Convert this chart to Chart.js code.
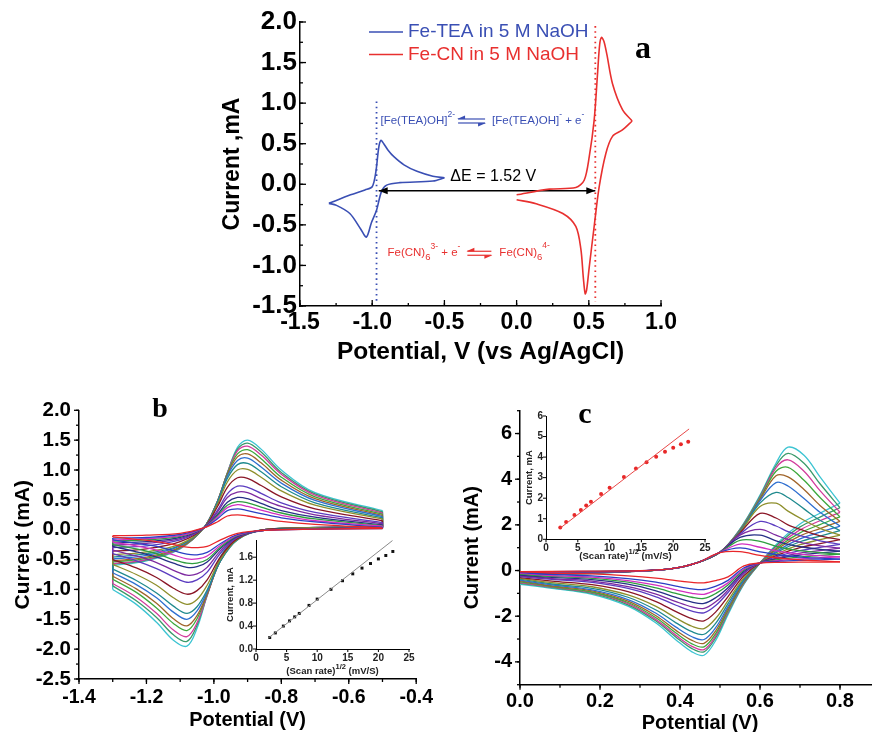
<!DOCTYPE html>
<html><head><meta charset="utf-8">
<script src="https://cdn.jsdelivr.net/npm/chart.js@4.4.0/dist/chart.umd.min.js"></script>
<style>
html,body{margin:0;padding:0;background:#fff;overflow:hidden;width:872px;height:732px;position:relative;}
canvas{position:absolute;}
</style></head><body>
<canvas id="ca" width="470" height="370" style="left:210px;top:0px"></canvas>
<canvas id="cb" width="440" height="342" style="left:0px;top:390px"></canvas>
<canvas id="cbi" width="200" height="150" style="left:220px;top:530px"></canvas>
<canvas id="cc" width="450" height="350" style="left:440px;top:390px"></canvas>
<canvas id="cci" width="200" height="165" style="left:515px;top:405px"></canvas>
<script>
// ---------------- Panel a data ----------------
const teaUpX = [-1.3,-1.15,-1.05,-1.0,-0.975,-0.955,-0.94,-0.92,-0.89,-0.85,-0.78,-0.69,-0.58,-0.5];
const teaUpY = [-0.235,-0.13,-0.07,-0.03,0.15,0.45,0.54,0.5,0.42,0.34,0.24,0.16,0.10,0.08];
const teaDnX = [-0.5,-0.579,-0.81,-0.9,-0.936,-0.97,-1.005,-1.04,-1.08,-1.155,-1.247,-1.3];
const teaDnY = [0.08,0.04,0.02,-0.01,-0.09,-0.32,-0.47,-0.65,-0.55,-0.36,-0.26,-0.235];
const cnUpX = [0.0,0.227,0.41,0.468,0.503,0.537,0.56,0.575,0.588,0.605,0.625,0.664,0.733,0.8];
const cnUpY = [-0.13,-0.06,-0.04,0.05,0.34,0.79,1.35,1.72,1.81,1.76,1.6,1.24,0.92,0.78];
const cnDnX = [0.8,0.733,0.664,0.618,0.572,0.537,0.503,0.485,0.475,0.462,0.445,0.41,0.32,0.135,0.0];
const cnDnY = [0.78,0.67,0.59,0.38,-0.03,-0.52,-1.02,-1.3,-1.35,-1.15,-0.8,-0.52,-0.36,-0.24,-0.19];
const dotBlueX = [-0.97,-0.97];  const dotBlueY = [1.02,-1.45];
const dotRedX = [0.545,0.545];   const dotRedY = [1.95,-1.45];
const arrowX = [-0.955,0.545];   const arrowY = [-0.08,-0.08];
const aTicksX = [-1.5,-1.0,-0.5,0.0,0.5,1.0];
const aTicksY = [-1.5,-1.0,-0.5,0.0,0.5,1.0,1.5,2.0];

// ---------------- Panel b data ----------------
const bAnodicX = [-1.3,-1.2,-1.1,-1.03,-0.99,-0.96,-0.93,-0.9,-0.86,-0.8,-0.7,-0.5];
const bCathodicX = [-0.5,-0.7,-0.85,-0.93,-0.98,-1.02,-1.05,-1.08,-1.12,-1.17,-1.23,-1.3];
const bAnodic = [
 [-0.10,-0.09,-0.06,0.03,0.13,0.23,0.25,0.23,0.19,0.14,0.09,0.03],
 [-0.14,-0.13,-0.08,0.03,0.18,0.32,0.35,0.32,0.27,0.20,0.13,0.04],
 [-0.17,-0.15,-0.10,0.03,0.21,0.37,0.42,0.39,0.33,0.24,0.15,0.06],
 [-0.19,-0.17,-0.11,0.03,0.23,0.41,0.47,0.45,0.38,0.28,0.18,0.07],
 [-0.22,-0.20,-0.13,0.03,0.25,0.46,0.54,0.52,0.44,0.32,0.21,0.08],
 [-0.26,-0.23,-0.15,0.03,0.29,0.54,0.63,0.62,0.52,0.39,0.25,0.10],
 [-0.30,-0.27,-0.17,0.03,0.32,0.60,0.73,0.71,0.61,0.45,0.29,0.12],
 [-0.36,-0.32,-0.20,0.03,0.38,0.71,0.87,0.86,0.74,0.55,0.35,0.15],
 [-0.42,-0.37,-0.24,0.03,0.42,0.80,1.00,1.01,0.88,0.65,0.41,0.18],
 [-0.46,-0.40,-0.26,0.03,0.45,0.86,1.09,1.11,0.97,0.72,0.45,0.20],
 [-0.49,-0.43,-0.27,0.03,0.46,0.90,1.16,1.20,1.05,0.78,0.49,0.22],
 [-0.52,-0.46,-0.29,0.03,0.47,0.92,1.22,1.27,1.12,0.83,0.52,0.24],
 [-0.54,-0.48,-0.30,0.03,0.47,0.94,1.27,1.34,1.19,0.88,0.55,0.26],
 [-0.57,-0.50,-0.31,0.03,0.47,0.95,1.32,1.40,1.25,0.93,0.58,0.28],
 [-0.58,-0.51,-0.31,0.03,0.46,0.95,1.35,1.45,1.30,0.96,0.60,0.30],
 [-0.60,-0.52,-0.32,0.03,0.45,0.95,1.38,1.50,1.35,1.00,0.62,0.32]
];
const bCathodic = [
 [0.02,0.01,-0.01,-0.06,-0.17,-0.28,-0.30,-0.29,-0.25,-0.20,-0.16,-0.12],
 [0.02,0.01,-0.01,-0.08,-0.23,-0.38,-0.42,-0.41,-0.35,-0.28,-0.23,-0.17],
 [0.03,0.01,-0.01,-0.09,-0.26,-0.44,-0.49,-0.49,-0.42,-0.34,-0.27,-0.21],
 [0.03,0.02,-0.01,-0.10,-0.29,-0.50,-0.56,-0.56,-0.50,-0.40,-0.32,-0.25],
 [0.03,0.02,-0.01,-0.11,-0.31,-0.54,-0.62,-0.63,-0.56,-0.46,-0.37,-0.28],
 [0.03,0.02,-0.01,-0.12,-0.35,-0.63,-0.74,-0.76,-0.68,-0.55,-0.44,-0.34],
 [0.04,0.02,-0.01,-0.13,-0.39,-0.71,-0.84,-0.88,-0.79,-0.65,-0.52,-0.40],
 [0.04,0.02,0.00,-0.15,-0.45,-0.84,-1.02,-1.08,-0.98,-0.80,-0.64,-0.50],
 [0.04,0.03,0.00,-0.16,-0.49,-0.93,-1.17,-1.25,-1.14,-0.93,-0.75,-0.58],
 [0.04,0.03,0.00,-0.17,-0.52,-1.01,-1.29,-1.40,-1.28,-1.06,-0.85,-0.66],
 [0.05,0.03,0.00,-0.16,-0.52,-1.04,-1.36,-1.50,-1.38,-1.14,-0.92,-0.72],
 [0.05,0.03,0.00,-0.16,-0.52,-1.07,-1.44,-1.61,-1.49,-1.23,-0.99,-0.78],
 [0.05,0.03,0.00,-0.15,-0.51,-1.08,-1.49,-1.69,-1.57,-1.31,-1.05,-0.83],
 [0.05,0.04,0.00,-0.14,-0.50,-1.10,-1.56,-1.79,-1.68,-1.40,-1.13,-0.90],
 [0.06,0.04,0.00,-0.13,-0.47,-1.10,-1.60,-1.87,-1.76,-1.47,-1.19,-0.94],
 [0.06,0.04,0.00,-0.12,-0.45,-1.10,-1.65,-1.95,-1.85,-1.55,-1.25,-1.00]
];
const bTicksX = [-1.4,-1.2,-1.0,-0.8,-0.6,-0.4];
const bTicksY = [-2.5,-2.0,-1.5,-1.0,-0.5,0.0,0.5,1.0,1.5,2.0];
const bInsetX = [2.24,3.16,4.47,5.48,6.32,7.07,8.66,10,12.25,14.14,15.81,17.32,18.71,20,21.21,22.36];
const bInsetY = [0.2,0.28,0.4,0.49,0.56,0.62,0.76,0.87,1.04,1.19,1.31,1.41,1.49,1.57,1.63,1.70];
const bFitX = [2.0,22.3];  const bFitY = [0.19,1.89];
const bInsetTicksX = [0,5,10,15,20,25];
const bInsetTicksY = [0.0,0.4,0.8,1.2,1.6];

// ---------------- Panel c data ----------------
const cAnodicX = [0.0,0.15,0.3,0.38,0.44,0.5,0.55,0.6,0.64,0.67,0.71,0.75,0.8];
const cCathodicX = [0.8,0.75,0.7,0.65,0.6,0.56,0.52,0.49,0.46,0.43,0.39,0.34,0.27,0.18,0.08,0.0];
const cAnodic = [
 [-0.05,-0.03,-0.01,0.08,0.32,0.78,0.83,0.66,0.56,0.51,0.46,0.42,0.38],
 [-0.06,-0.04,-0.01,0.08,0.32,0.80,0.99,0.82,0.70,0.64,0.58,0.54,0.50],
 [-0.08,-0.05,-0.02,0.08,0.32,0.80,1.16,1.02,0.86,0.78,0.70,0.65,0.60],
 [-0.09,-0.05,-0.02,0.08,0.32,0.80,1.32,1.28,1.06,0.95,0.85,0.78,0.72],
 [-0.10,-0.06,-0.02,0.08,0.32,0.80,1.45,1.55,1.30,1.15,1.02,0.93,0.85],
 [-0.12,-0.07,-0.02,0.08,0.32,0.80,1.55,1.80,1.55,1.36,1.20,1.08,0.98],
 [-0.13,-0.08,-0.02,0.08,0.32,0.80,1.60,2.15,1.95,1.70,1.48,1.30,1.15],
 [-0.14,-0.08,-0.02,0.08,0.32,0.80,1.65,2.50,2.30,2.00,1.75,1.52,1.35],
 [-0.15,-0.09,-0.03,0.08,0.32,0.80,1.68,2.80,2.95,2.60,2.20,1.85,1.55],
 [-0.17,-0.10,-0.03,0.08,0.32,0.80,1.70,2.95,3.42,3.20,2.70,2.20,1.75],
 [-0.18,-0.11,-0.03,0.08,0.32,0.80,1.72,3.05,3.85,3.70,3.15,2.55,1.95],
 [-0.19,-0.11,-0.03,0.08,0.32,0.80,1.74,3.10,4.15,4.10,3.55,2.85,2.15],
 [-0.21,-0.12,-0.03,0.08,0.32,0.80,1.76,3.15,4.35,4.52,3.95,3.20,2.35],
 [-0.22,-0.13,-0.03,0.08,0.32,0.80,1.78,3.20,4.50,4.85,4.35,3.50,2.55],
 [-0.23,-0.14,-0.03,0.08,0.32,0.80,1.80,3.25,4.60,5.13,4.70,3.80,2.75],
 [-0.25,-0.15,-0.03,0.08,0.32,0.80,1.82,3.30,4.70,5.40,5.05,4.10,2.95]
];
const cCathodic = [
 [0.38,0.37,0.37,0.36,0.33,0.20,-0.28,-0.44,-0.54,-0.52,-0.44,-0.33,-0.23,-0.15,-0.11,-0.05],
 [0.50,0.47,0.45,0.41,0.33,0.12,-0.43,-0.68,-0.83,-0.80,-0.68,-0.51,-0.35,-0.23,-0.17,-0.09],
 [0.60,0.56,0.51,0.44,0.33,0.07,-0.54,-0.85,-1.04,-1.00,-0.85,-0.64,-0.44,-0.29,-0.22,-0.12],
 [0.72,0.66,0.59,0.49,0.33,0.03,-0.63,-1.00,-1.22,-1.17,-1.00,-0.76,-0.51,-0.34,-0.26,-0.16],
 [0.85,0.77,0.68,0.54,0.33,-0.03,-0.75,-1.18,-1.44,-1.38,-1.18,-0.89,-0.60,-0.40,-0.30,-0.20],
 [0.98,0.87,0.76,0.58,0.33,-0.09,-0.86,-1.36,-1.66,-1.59,-1.36,-1.03,-0.70,-0.46,-0.35,-0.23],
 [1.15,1.01,0.87,0.65,0.33,-0.13,-0.96,-1.52,-1.85,-1.78,-1.52,-1.15,-0.78,-0.52,-0.39,-0.27],
 [1.35,1.18,1.00,0.72,0.33,-0.22,-1.14,-1.80,-2.20,-2.11,-1.80,-1.36,-0.92,-0.62,-0.46,-0.31],
 [1.55,1.35,1.13,0.79,0.33,-0.31,-1.32,-2.08,-2.54,-2.44,-2.08,-1.57,-1.07,-0.71,-0.53,-0.34],
 [1.75,1.51,1.26,0.87,0.33,-0.37,-1.45,-2.29,-2.79,-2.68,-2.29,-1.73,-1.17,-0.78,-0.59,-0.38],
 [1.95,1.68,1.39,0.94,0.33,-0.43,-1.57,-2.48,-3.02,-2.90,-2.48,-1.87,-1.27,-0.85,-0.63,-0.42],
 [2.15,1.84,1.52,1.02,0.33,-0.47,-1.66,-2.62,-3.19,-3.06,-2.62,-1.98,-1.34,-0.89,-0.67,-0.45],
 [2.35,2.01,1.65,1.09,0.33,-0.51,-1.74,-2.74,-3.34,-3.21,-2.74,-2.07,-1.40,-0.94,-0.70,-0.49],
 [2.55,2.18,1.78,1.16,0.33,-0.54,-1.80,-2.84,-3.46,-3.32,-2.84,-2.15,-1.45,-0.97,-0.73,-0.53],
 [2.75,2.34,1.91,1.24,0.33,-0.56,-1.85,-2.92,-3.56,-3.42,-2.92,-2.21,-1.50,-1.00,-0.75,-0.56],
 [2.95,2.51,2.04,1.31,0.33,-0.60,-1.93,-3.04,-3.71,-3.56,-3.04,-2.30,-1.56,-1.04,-0.78,-0.60]
];
const cTicksX = [0.0,0.2,0.4,0.6,0.8];
const cTicksY = [-4,-2,0,2,4,6];
const cInsetX = [2.24,3.16,4.47,5.48,6.32,7.07,8.66,10,12.25,14.14,15.81,17.32,18.71,20,21.21,22.36];
const cInsetY = [0.58,0.84,1.18,1.43,1.64,1.83,2.2,2.51,3.03,3.44,3.75,4.02,4.26,4.46,4.62,4.75];
const cFitX = [2.3,22.5];  const cFitY = [0.56,5.37];
const cInsetTicksX = [0,5,10,15,20,25];
const cInsetTicksY = [0,1,2,3,4,5,6];

const curveColors = ['#e8262a','#2b3fc4','#d22fc0','#2e9e3e','#262f86','#7d2aa0','#5b3cc0','#8a1626',
                     '#8e8f2c','#1f8a8e','#2f6fd0','#a0642a','#3ea83c','#d23c9c','#3a9a6a','#3cc4d2'];
const BLUE = '#3a4fb4', RED = '#e8302f';

// ---------------- helpers ----------------
const SANS = "'Liberation Sans', Arial, Helvetica, sans-serif";
const SERIF = "'Liberation Serif', 'Times New Roman', serif";
Chart.defaults.font.family = SANS;

function pts(xs, ys){ return xs.map((x,i)=>({x:x, y:ys[i]})); }
function line(xs, ys, color, w, t){
  return {data: pts(xs,ys), borderColor:color, backgroundColor:color, borderWidth:w, tension:t,
          showLine:true, pointRadius:0, pointHoverRadius:0, fill:false};
}
function makeAxis(o){
  return {
    type:'linear', position:o.pos, min:o.min, max:o.max,
    afterBuildTicks: s => { s.ticks = o.ticks.map(v=>({value:v})); },
    afterFit: s => { if (o.pos==='left') s.width = o.fit; else s.height = o.fit; },
    grid:{display:false, drawTicks:false, drawOnChartArea:false},
    border:{display:true, color:'#000', width:o.bw || 1.5},
    ticks:{color:o.tc || '#000', padding:o.pad, autoSkip:false, maxRotation:0,
           font:{family:SANS, size:o.size, weight:'bold', lineHeight:1.2},
           callback: v => o.fmt(v)},
    title: o.title ? {display:true, text:o.title, color:o.tc || '#000',
           font:{family:SANS, size:o.titleSize, weight:'bold', lineHeight:1.2}, padding:o.titlePad}
         : {display:false}
  };
}
function range(min,max,step){ const a=[]; for(let v=min; v<=max+1e-9; v+=step) a.push(+v.toFixed(6)); return a; }

const tickMarks = {
  id:'tickMarks',
  afterDraw(chart, args, o){
    const ctx = chart.ctx, ca = chart.chartArea, sx = chart.scales.x, sy = chart.scales.y;
    ctx.save(); ctx.strokeStyle = '#000'; ctx.lineWidth = o.lw || 1.2;
    const d = o.inward ? 1 : -1;
    const doX = (vals,len) => vals.forEach(v => { if (v < sx.min-1e-9 || v > sx.max+1e-9) return;
      const p = sx.getPixelForValue(v); ctx.beginPath(); ctx.moveTo(p, ca.bottom); ctx.lineTo(p, ca.bottom - d*len); ctx.stroke(); });
    const doY = (vals,len) => vals.forEach(v => { if (v < sy.min-1e-9 || v > sy.max+1e-9) return;
      const p = sy.getPixelForValue(v); ctx.beginPath(); ctx.moveTo(ca.left, p); ctx.lineTo(ca.left + d*len, p); ctx.stroke(); });
    if (o.xMinor) doX(range(sx.min, sx.max, o.xMinor), o.minor);
    if (o.yMinor) doY(range(sy.min, sy.max, o.yMinor), o.minor);
    doX(sx.ticks.map(t=>t.value), o.major);
    doY(sy.ticks.map(t=>t.value), o.major);
    ctx.restore();
  }
};

function richWidth(ctx, parts){
  let w = 0;
  for (const p of parts){
    if (p.gap){ w += p.gap; continue; }
    if (p.eq){ w += p.eq; continue; }
    ctx.font = (p.w || 'normal') + ' ' + p.s + 'px ' + SANS;
    w += ctx.measureText(p.t).width;
  }
  return w;
}
function drawEq(ctx, x, y, w){
  ctx.lineWidth = 1.2;
  ctx.beginPath(); ctx.moveTo(x, y-2); ctx.lineTo(x+w, y-2); ctx.stroke();
  ctx.beginPath(); ctx.moveTo(x-1, y-2); ctx.lineTo(x+7, y-5.5); ctx.lineTo(x+7, y-2); ctx.closePath(); ctx.fill();
  ctx.beginPath(); ctx.moveTo(x, y+2); ctx.lineTo(x+w, y+2); ctx.stroke();
  ctx.beginPath(); ctx.moveTo(x+w+1, y+2); ctx.lineTo(x+w-7, y+5.5); ctx.lineTo(x+w-7, y+2); ctx.closePath(); ctx.fill();
}
function drawRich(ctx, x, y, parts, color){
  ctx.save(); ctx.fillStyle = color; ctx.strokeStyle = color; ctx.textBaseline = 'middle'; ctx.textAlign = 'left';
  for (const p of parts){
    if (p.gap){ x += p.gap; continue; }
    if (p.eq){ drawEq(ctx, x, y, p.eq); x += p.eq; continue; }
    ctx.font = (p.w || 'normal') + ' ' + p.s + 'px ' + SANS;
    ctx.fillText(p.t, x, y + (p.dy || 0));
    x += ctx.measureText(p.t).width;
  }
  ctx.restore();
}
function letter(ctx, t, x, y, size){
  ctx.save(); ctx.fillStyle = '#000'; ctx.font = 'bold ' + size + 'px ' + SERIF;
  ctx.textAlign = 'center'; ctx.textBaseline = 'middle'; ctx.fillText(t, x, y); ctx.restore();
}

const common = {animation:false, responsive:false, events:[], maintainAspectRatio:false};

// ---------------- Panel a ----------------
const panelA = {
  id:'panelA',
  afterDatasetsDraw(chart){
    const ctx = chart.ctx, sx = chart.scales.x, sy = chart.scales.y;
    const yA = sy.getPixelForValue(arrowY[0]);
    const xl = sx.getPixelForValue(arrowX[0]), xr = sx.getPixelForValue(arrowX[1]);
    ctx.save(); ctx.fillStyle = '#000';
    ctx.beginPath(); ctx.moveTo(xl, yA); ctx.lineTo(xl+9, yA-3.5); ctx.lineTo(xl+9, yA+3.5); ctx.closePath(); ctx.fill();
    ctx.beginPath(); ctx.moveTo(xr, yA); ctx.lineTo(xr-9, yA-3.5); ctx.lineTo(xr-9, yA+3.5); ctx.closePath(); ctx.fill();
    ctx.font = '16px ' + SANS; ctx.textBaseline = 'middle'; ctx.textAlign = 'left';
    ctx.fillText('ΔE = 1.52 V', sx.getPixelForValue(-0.459), sy.getPixelForValue(0.10));
    ctx.restore();
    drawRich(ctx, sx.getPixelForValue(-0.943), sy.getPixelForValue(0.78), [
      {t:'[Fe(TEA)OH]', s:11.5}, {t:'2-', s:8.5, dy:-6}, {gap:3}, {eq:27}, {gap:7},
      {t:'[Fe(TEA)OH]', s:11.5}, {t:'-', s:8.5, dy:-6}, {t:' + e', s:11.5}, {t:'-', s:8.5, dy:-6}
    ], BLUE);
    drawRich(ctx, sx.getPixelForValue(-0.894), sy.getPixelForValue(-0.85), [
      {t:'Fe(CN)', s:11.5}, {t:'6', s:9.5, dy:4}, {t:'3-', s:8.5, dy:-7}, {t:' + e', s:11.5}, {t:'-', s:8.5, dy:-7},
      {gap:7}, {eq:24}, {gap:8}, {t:'Fe(CN)', s:11.5}, {t:'6', s:9.5, dy:4}, {t:'4-', s:8.5, dy:-8}
    ], RED);
  },
  afterDraw(chart){
    const ctx = chart.ctx;
    ctx.save(); ctx.lineWidth = 1.6;
    ctx.strokeStyle = BLUE; ctx.beginPath(); ctx.moveTo(159, 32); ctx.lineTo(193, 32); ctx.stroke();
    ctx.strokeStyle = RED; ctx.beginPath(); ctx.moveTo(159, 54.5); ctx.lineTo(193, 54.5); ctx.stroke();
    ctx.font = '19px ' + SANS; ctx.textBaseline = 'middle'; ctx.textAlign = 'left';
    ctx.fillStyle = BLUE; ctx.fillText('Fe-TEA in 5 M NaOH', 198, 32);
    ctx.fillStyle = RED; ctx.fillText('Fe-CN in 5 M NaOH', 198, 54.5);
    ctx.restore();
    letter(ctx, 'a', 433, 50, 32);
  }
};

new Chart(document.getElementById('ca'), {
  type:'scatter',
  data:{datasets:[
    line(teaUpX, teaUpY, BLUE, 1.6, 0.3),
    line(teaDnX, teaDnY, BLUE, 1.6, 0.3),
    line(cnUpX, cnUpY, RED, 1.6, 0.3),
    line(cnDnX, cnDnY, RED, 1.6, 0.3),
    Object.assign(line(dotBlueX, dotBlueY, BLUE, 1.8, 0), {borderDash:[1.6,3.6]}),
    Object.assign(line(dotRedX, dotRedY, RED, 1.8, 0), {borderDash:[1.6,3.6]}),
    line(arrowX, arrowY, '#000', 1.5, 0)
  ]},
  options:Object.assign({}, common, {
    layout:{padding:{left:0, top:22, right:18, bottom:0}},
    scales:{
      x: makeAxis({pos:'bottom', min:-1.5, max:1.0, ticks:aTicksX, fmt:v=>v.toFixed(1), size:23, pad:3, fit:64,
                   title:'Potential, V (vs Ag/AgCl)', titleSize:24.5, titlePad:{top:0, bottom:3.3}}),
      y: makeAxis({pos:'left', min:-1.5, max:2.0, ticks:aTicksY, fmt:v=>v.toFixed(1), size:26, pad:3, fit:90,
                   title:'Current ,mA', titleSize:23, titlePad:{top:9.2, bottom:0}})
    },
    plugins:{legend:{display:false}, tooltip:{enabled:false},
             tickMarks:{inward:true, major:6, minor:3, xMinor:0.25, yMinor:0.25, lw:1.3}}
  }),
  plugins:[tickMarks, panelA]
});

// ---------------- Panel b ----------------
function cvDatasets(anX, an, caX, ca, split){
  const ds = [];
  an.forEach((ys, k) => {
    const col = curveColors[k];
    ds.push(line(anX, ys, col, 1.3, 0.35));
    ds.push(line(caX, ca[k], col, 1.3, 0.35));
    ds.push(line([anX[0], caX[caX.length-1]], [ys[0], ca[k][ca[k].length-1]], col, 1.3, 0));
    if (split) ds.push(line([anX[anX.length-1], caX[0]], [ys[ys.length-1], ca[k][0]], col, 1.3, 0));
  });
  return ds;
}
const letterPlugin = {
  id:'letterPlugin',
  afterDraw(chart, a, o){ letter(chart.ctx, o.t, o.x, o.y, o.size); }
};

new Chart(document.getElementById('cb'), {
  type:'scatter',
  data:{datasets: cvDatasets(bAnodicX, bAnodic, bCathodicX, bCathodic, true)},
  options:Object.assign({}, common, {
    layout:{padding:{left:0, top:17, right:20, bottom:0}},
    scales:{
      x: makeAxis({pos:'bottom', min:-1.4, max:-0.4, ticks:bTicksX, fmt:v=>v.toFixed(1), size:19.5, pad:7, fit:53,
                   title:'Potential (V)', titleSize:20, titlePad:{top:0, bottom:0}}),
      y: makeAxis({pos:'left', min:-2.5, max:2.0, ticks:bTicksY, fmt:v=>v.toFixed(1), size:20.5, pad:8, fit:79,
                   title:'Current (mA)', titleSize:21, titlePad:{top:10.4, bottom:0}})
    },
    plugins:{legend:{display:false}, tooltip:{enabled:false},
             tickMarks:{inward:false, major:5, minor:3, xMinor:0.1, yMinor:0.25, lw:1.3},
             letterPlugin:{t:'b', x:160, y:20, size:28}}
  }),
  plugins:[tickMarks, letterPlugin]
});

const insetTitle = {
  id:'insetTitle',
  afterDraw(chart, a, o){
    const ctx = chart.ctx, ca = chart.chartArea;
    const parts = [{t:'(Scan rate)', s:9.5, w:'bold'}, {t:'1/2', s:7.5, w:'bold', dy:-4}, {t:' (mV/S)', s:9.5, w:'bold'}];
    const w = richWidth(ctx, parts);
    drawRich(ctx, (ca.left + ca.right)/2 - w/2, ca.bottom + o.dy, parts, '#222');
  }
};

new Chart(document.getElementById('cbi'), {
  type:'scatter',
  data:{datasets:[
    line(bFitX, bFitY, '#8a8a8a', 1, 0),
    {data:pts(bInsetX, bInsetY), showLine:false, pointStyle:'rect', pointRadius:2.1, backgroundColor:'#111', borderColor:'#111', borderWidth:0}
  ]},
  options:Object.assign({}, common, {
    layout:{padding:{left:0, top:10, right:11, bottom:0}},
    scales:{
      x: makeAxis({pos:'bottom', min:0, max:25, ticks:bInsetTicksX, fmt:v=>String(v), size:10, pad:3, fit:31, bw:1, tc:'#222'}),
      y: makeAxis({pos:'left', min:0, max:1.9, ticks:bInsetTicksY, fmt:v=>v.toFixed(1), size:10, pad:3, fit:36, bw:1, tc:'#222',
                   title:'Current, mA', titleSize:9.5, titlePad:{top:4.4, bottom:0}})
    },
    plugins:{legend:{display:false}, tooltip:{enabled:false},
             tickMarks:{inward:false, major:3, minor:2, lw:1}, insetTitle:{dy:22}}
  }),
  plugins:[tickMarks, insetTitle]
});

// ---------------- Panel c ----------------
new Chart(document.getElementById('cc'), {
  type:'scatter',
  data:{datasets: cvDatasets(cAnodicX, cAnodic, cCathodicX, cCathodic, false)},
  options:Object.assign({}, common, {
    layout:{padding:{left:0, top:20.7, right:10, bottom:0}},
    scales:{
      x: makeAxis({pos:'bottom', min:0, max:0.9, ticks:cTicksX, fmt:v=>v.toFixed(1), size:20, pad:5, fit:55.3,
                   title:'Potential (V)', titleSize:20, titlePad:{top:0, bottom:5}}),
      y: makeAxis({pos:'left', min:-5, max:7, ticks:cTicksY, fmt:v=>String(v), size:20, pad:8, fit:80,
                   title:'Current (mA)', titleSize:20, titlePad:{top:20.5, bottom:0}})
    },
    plugins:{legend:{display:false}, tooltip:{enabled:false},
             tickMarks:{inward:false, major:5, minor:3, xMinor:0.1, yMinor:1, lw:1.3},
             letterPlugin:{t:'c', x:145, y:25, size:30}}
  }),
  plugins:[tickMarks, letterPlugin]
});

new Chart(document.getElementById('cci'), {
  type:'scatter',
  data:{datasets:[
    line(cFitX, cFitY, '#e84848', 1, 0),
    {data:pts(cInsetX, cInsetY), showLine:false, pointStyle:'circle', pointRadius:2, backgroundColor:'#e82828', borderColor:'#e82828', borderWidth:0}
  ]},
  options:Object.assign({}, common, {
    layout:{padding:{left:0, top:11, right:10, bottom:0}},
    scales:{
      x: makeAxis({pos:'bottom', min:0, max:25, ticks:cInsetTicksX, fmt:v=>String(v), size:10, pad:3, fit:30.7, bw:1, tc:'#222'}),
      y: makeAxis({pos:'left', min:0, max:6, ticks:cInsetTicksY, fmt:v=>String(v), size:10, pad:3, fit:31, bw:1, tc:'#222',
                   title:'Current, mA', titleSize:9.5, titlePad:{top:8.3, bottom:0}})
    },
    plugins:{legend:{display:false}, tooltip:{enabled:false},
             tickMarks:{inward:false, major:3, minor:2, lw:1}, insetTitle:{dy:17}}
  }),
  plugins:[tickMarks, insetTitle]
});
</script>
</body></html>
